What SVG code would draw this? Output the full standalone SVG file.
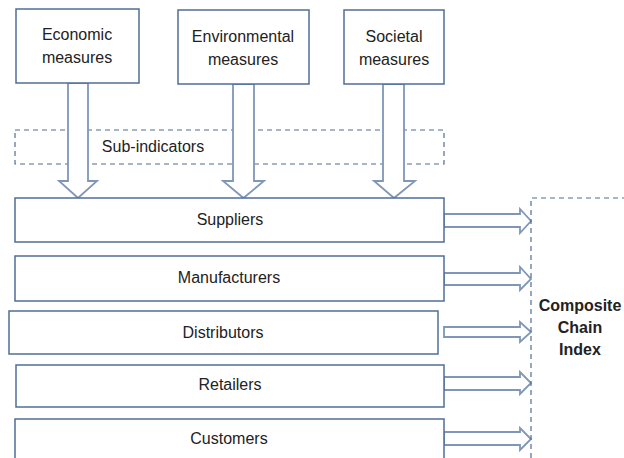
<svg xmlns="http://www.w3.org/2000/svg" width="624" height="458" viewBox="0 0 624 458">
<style>
.box{fill:#fff;stroke:#4f6e96;stroke-width:1.5}
.dash{fill:none;stroke:#4f6e96;stroke-width:1.2;stroke-dasharray:5 4}
.arr{fill:#fff;stroke:#7f96b8;stroke-width:1.8;stroke-linejoin:miter}
text{font-family:"Liberation Sans",Arial,sans-serif;font-size:16px;fill:#222;text-anchor:middle}
.b{font-weight:bold}
</style>
<rect width="624" height="458" fill="#fff"/>
<g id="subindicators">
<rect class="dash" x="15" y="130" width="429" height="34"/>
<text x="153" y="152">Sub-indicators</text>
</g>
<g id="connectors">
<polygon class="arr" points="68,83 88,83 88,181 97,181 78,198 59,181 68,181"/>
<polygon class="arr" points="233,84 254,84 254,181 264,181 243.5,198 223,181 233,181"/>
<polygon class="arr" points="383,84 404,84 404,181 415,181 394,198 374,181 383,181"/>
<polygon class="arr" points="444,214 520,214 520,209 531,221 520,233 520,227 444,227"/>
<polygon class="arr" points="444,273 520,273 520,267 531,279 520,290 520,285 444,285"/>
<polygon class="arr" points="444,327 520,327 520,322 531,332 520,342 520,337 444,337"/>
<polygon class="arr" points="444,377 520,377 520,372 531,383 520,394 520,390 444,390"/>
<polygon class="arr" points="444,432 520,432 520,428 531,439 520,450 520,445 444,445"/>
</g>
<g id="economic">
<rect class="box" x="16" y="9" width="123" height="74"/>
<text x="77" y="40">Economic</text>
<text x="77" y="63">measures</text>
</g>
<g id="environmental">
<rect class="box" x="178" y="10" width="131" height="74"/>
<text x="243" y="42">Environmental</text>
<text x="243" y="65">measures</text>
</g>
<g id="societal">
<rect class="box" x="344" y="10" width="100" height="74"/>
<text x="394" y="42">Societal</text>
<text x="394" y="65">measures</text>
</g>
<g id="suppliers">
<rect class="box" x="15" y="198" width="429" height="44"/>
<text x="230" y="225">Suppliers</text>
</g>
<g id="manufacturers">
<rect class="box" x="15" y="256" width="429" height="45"/>
<text x="229" y="283">Manufacturers</text>
</g>
<g id="distributors">
<rect class="box" x="9" y="311" width="429" height="43"/>
<text x="223" y="338">Distributors</text>
</g>
<g id="retailers">
<rect class="box" x="16" y="365" width="428" height="42"/>
<text x="230" y="390">Retailers</text>
</g>
<g id="customers">
<rect class="box" x="15" y="419" width="429" height="45"/>
<text x="229" y="444">Customers</text>
</g>
<g id="composite">
<path class="dash" d="M531,458 V198 H630"/>
<text class="b" x="580" y="311">Composite</text>
<text class="b" x="580" y="333">Chain</text>
<text class="b" x="580" y="355">Index</text>
</g>
</svg>
